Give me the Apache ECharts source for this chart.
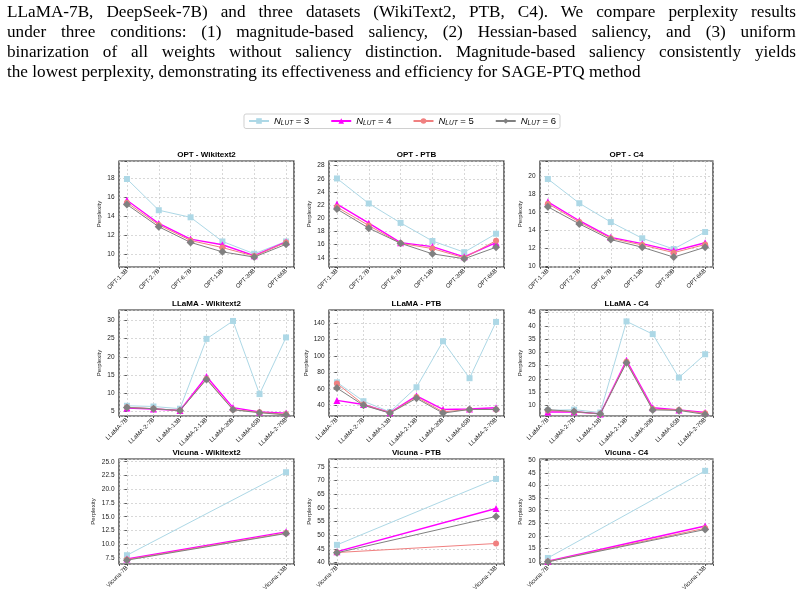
<!DOCTYPE html>
<html>
<head>
<meta charset="utf-8">
<script src="https://cdn.jsdelivr.net/npm/echarts@6/dist/echarts.min.js"></script>
<style>
  html, body { margin: 0; padding: 0; background: #fff; }
  #wrap { position: relative; width: 804px; height: 595px; overflow: hidden; }
  #main { position: absolute; left: 0; top: 0; width: 804px; height: 595px; }
  .para { position: absolute; left: 7px; font-family: "Liberation Serif", "Times New Roman", serif;
          font-size: 17.2px; line-height: 20px; color: #000; white-space: nowrap; }
</style>
</head>
<body>
<div id="wrap">
  <div id="main"></div>
  <div id="para"></div>
</div>
<script>
// caption text above the figure
var paraLines = [
  "LLaMA-7B, DeepSeek-7B) and three datasets (WikiText2, PTB, C4). We compare perplexity results",
  "under three conditions: (1) magnitude-based saliency, (2) Hessian-based saliency, and (3) uniform",
  "binarization of all weights without saliency distinction. Magnitude-based saliency consistently yields",
  "the lowest perplexity, demonstrating its effectiveness and efficiency for SAGE-PTQ method"
];

var optModels = ["OPT-1.3B", "OPT-2.7B", "OPT-6.7B", "OPT-13B", "OPT-30B", "OPT-66B"];
var llamaModels = ["LLaMA-7B", "LLaMA-2-7B", "LLaMA-13B", "LLaMA-2-13B", "LLaMA-30B", "LLaMA-65B", "LLaMA-2-70B"];
var vicunaModels = ["Vicuna-7B", "Vicuna-13B"];
var lutSizes = [3, 4, 5, 6];

// rows: N_LUT = 3, 4, 5, 6
var optWikitext2 = [
  [17.9, 14.6, 13.85, 11.3, 10.0, 11.3],
  [15.65, 13.2, 11.55, 10.95, 9.8, 11.25],
  [15.4, 13.05, 11.4, 10.65, 9.75, 11.2],
  [15.2, 12.85, 11.2, 10.2, 9.65, 11.0]
];
var optPTB = [
  [26.05, 22.25, 19.3, 16.55, 14.85, 17.65],
  [22.15, 19.25, 16.3, 15.7, 14.15, 16.3],
  [21.7, 18.9, 16.2, 15.4, 14.0, 16.6],
  [21.4, 18.5, 16.2, 14.6, 13.85, 15.6]
];
var optC4 = [
  [19.7, 17.0, 14.9, 13.1, 11.9, 13.8],
  [17.15, 15.05, 13.2, 12.5, 11.7, 12.6],
  [16.95, 14.9, 13.1, 12.35, 11.5, 12.4],
  [16.6, 14.7, 12.95, 12.1, 11.0, 12.1]
];
var llamaWikitext2 = [
  [6.6, 6.4, 5.8, 24.9, 29.8, 9.8, 25.3],
  [6.0, 5.7, 5.3, 14.6, 6.1, 4.9, 4.6],
  [6.2, 5.8, 5.3, 14.0, 5.6, 4.8, 4.3],
  [6.1, 5.8, 5.3, 13.8, 5.5, 4.7, 4.1]
];
var llamaPTB = [
  [68, 45, 32, 62, 118, 73, 141.5],
  [46, 41, 31, 51.5, 35, 35.5, 37],
  [66.5, 41, 31, 50, 32, 35, 35],
  [61, 40, 30.5, 48.5, 30.5, 35, 35]
];
var llamaC4 = [
  [8.1, 8.4, 7.3, 41.7, 36.9, 20.5, 29.3],
  [7.5, 7.6, 6.8, 27.0, 9.1, 8.3, 7.3],
  [8.1, 7.6, 6.8, 26.5, 8.6, 8.3, 7.0],
  [8.4, 7.7, 6.8, 26.1, 8.3, 8.1, 6.6]
];
var vicunaWikitext2 = [
  [8.0, 23.1],
  [7.3, 12.25],
  [7.2, 12.05],
  [7.1, 11.95]
];
var vicunaPTB = [
  [46.5, 70.6],
  [44.0, 59.8],
  [43.7, 47.0],
  [43.6, 56.9]
];
var vicunaC4 = [
  [11.2, 45.8],
  [9.9, 23.9],
  [9.8, 23.0],
  [9.7, 22.5]
];

// panel setup (axis limits, tick step)
var panels = [
  {title: "OPT - Wikitext2", models: optModels, data: optWikitext2, yMin: 8.6, yMax: 19.8, step: 2, dec: 0},
  {title: "OPT - PTB", models: optModels, data: optPTB, yMin: 12.6, yMax: 28.7, step: 2, dec: 0},
  {title: "OPT - C4", models: optModels, data: optC4, yMin: 9.9, yMax: 21.7, step: 2, dec: 0},
  {title: "LLaMA - Wikitext2", models: llamaModels, data: llamaWikitext2, yMin: 3.8, yMax: 32.8, step: 5, dec: 0},
  {title: "LLaMA - PTB", models: llamaModels, data: llamaPTB, yMin: 27, yMax: 156, step: 20, dec: 0},
  {title: "LLaMA - C4", models: llamaModels, data: llamaC4, yMin: 6, yMax: 46, step: 5, dec: 0},
  {title: "Vicuna - Wikitext2", models: vicunaModels, data: vicunaWikitext2, yMin: 6.4, yMax: 25.5, step: 2.5, dec: 1},
  {title: "Vicuna - PTB", models: vicunaModels, data: vicunaPTB, yMin: 39.5, yMax: 77.9, step: 5, dec: 0},
  {title: "Vicuna - C4", models: vicunaModels, data: vicunaC4, yMin: 8.8, yMax: 50.5, step: 5, dec: 0}
];

var colLeft = [119, 329, 540];
var colWidth = [175, 175, 173];
var rowTop = [161, 310, 459];
var rowHeight = [106, 106, 105];

var lineStyles = [
  {color: "#add8e6", symbol: "rect", size: 6, width: 1},
  {color: "#ff00ff", symbol: "triangle", size: 7, width: 1.4},
  {color: "#f08080", symbol: "circle", size: 6, width: 1},
  {color: "#808080", symbol: "diamond", size: 8, width: 1}
];

var FONT = "Liberation Sans, Arial, sans-serif";

// paragraph, justified line by line
var para = document.getElementById("para");
paraLines.forEach(function(t, i) {
  var d = document.createElement("div");
  d.className = "para";
  d.textContent = t;
  d.style.top = (2.4 + 20 * i) + "px";
  para.appendChild(d);
  if (i < paraLines.length - 1) {
    var w = d.getBoundingClientRect().width;
    var spaces = t.split(" ").length - 1;
    d.style.wordSpacing = ((789 - w) / spaces) + "px";
  }
});

function isMultiple(v, step) {
  var k = v / step;
  return Math.abs(k - Math.round(k)) < 1e-6;
}

var grids = [], xAxes = [], yAxes = [], titles = [], series = [];
var seriesNames = lutSizes.map(function(n) { return "N_LUT = " + n; });

panels.forEach(function(p, idx) {
  var r = Math.floor(idx / 3), c = idx % 3;
  var n = p.models.length;
  var pad = 0.05 * (n - 1);
  var labelLen = Math.max(p.yMax.toFixed(p.dec).length, p.yMin.toFixed(p.dec).length);
  var gap = labelLen >= 4 ? 22.5 : (labelLen == 3 ? 19.5 : 16.5);

  grids.push({
    left: colLeft[c], top: rowTop[r], width: colWidth[c], height: rowHeight[r],
    show: true, borderColor: "#222", borderWidth: 1.2, backgroundColor: "#fff",
    containLabel: false
  });
  titles.push({
    text: p.title,
    left: colLeft[c] + colWidth[c] / 2,
    top: rowTop[r] - 10.5,
    textAlign: "center",
    padding: 0,
    textStyle: {fontFamily: FONT, fontSize: 8, fontWeight: "bold", color: "#000"}
  });
  xAxes.push({
    type: "value", gridIndex: idx,
    min: -pad, max: (n - 1) + pad,
    minInterval: 1, maxInterval: 1,
    axisLine: {show: false},
    axisTick: {show: true, length: 2, lineStyle: {color: "#333", width: 0.8}},
    axisLabel: {
      rotate: 45, margin: 3, fontSize: 6, color: "#222", fontFamily: FONT,
      formatter: function(v) { return isMultiple(v, 1) ? p.models[Math.round(v)] : ""; }
    },
    splitLine: {show: true, lineStyle: {color: "#c8c8c8", width: 0.7, type: [2, 2]}}
  });
  yAxes.push({
    type: "value", gridIndex: idx,
    min: p.yMin, max: p.yMax,
    minInterval: p.step, maxInterval: p.step,
    name: "Perplexity", nameLocation: "middle", nameGap: gap,
    nameTextStyle: {fontSize: 6, color: "#222", fontFamily: FONT},
    axisLine: {show: false},
    axisTick: {show: true, length: 2.5, lineStyle: {color: "#333", width: 0.8}},
    axisLabel: {
      margin: 4.5, fontSize: 6.5, color: "#222", fontFamily: FONT,
      formatter: function(v) { return isMultiple(v, p.step) ? v.toFixed(p.dec) : ""; }
    },
    splitLine: {show: true, lineStyle: {color: "#c8c8c8", width: 0.7, type: [2, 2]}}
  });

  p.data.forEach(function(vals, k) {
    var s = lineStyles[k];
    series.push({
      name: seriesNames[k],
      type: "line",
      xAxisIndex: idx, yAxisIndex: idx,
      data: vals.map(function(v, i) { return [i, v]; }),
      symbol: s.symbol, symbolSize: s.size,
      showAllSymbol: true,
      lineStyle: {color: s.color, width: s.width},
      itemStyle: {color: s.color},
      z: 3 + k
    });
  });
});

var myChart = echarts.init(document.getElementById("main"), null, {renderer: "canvas"});
var option = {
  animation: false,
  backgroundColor: "transparent",
  title: titles,
  legend: {
    top: 114, left: "center",
    data: seriesNames,
    itemWidth: 20, itemHeight: 7, itemGap: 21,
    padding: [2, 4],
    borderColor: "#d0d0d0", borderWidth: 1, borderRadius: 2,
    formatter: function(name) {
      return "{n|N}{s|LUT}{t| = " + name.split("= ")[1] + "}";
    },
    textStyle: {
      fontFamily: FONT, fontSize: 9.5, color: "#000",
      rich: {
        n: {fontStyle: "italic", fontSize: 9.5, lineHeight: 11, fontFamily: FONT},
        s: {fontStyle: "italic", fontSize: 6.5, lineHeight: 7, verticalAlign: "bottom", fontFamily: FONT},
        t: {fontSize: 9.5, lineHeight: 11, fontFamily: FONT}
      }
    }
  },
  grid: grids,
  xAxis: xAxes,
  yAxis: yAxes,
  series: series
};
myChart.setOption(option);
</script>
</body>
</html>
